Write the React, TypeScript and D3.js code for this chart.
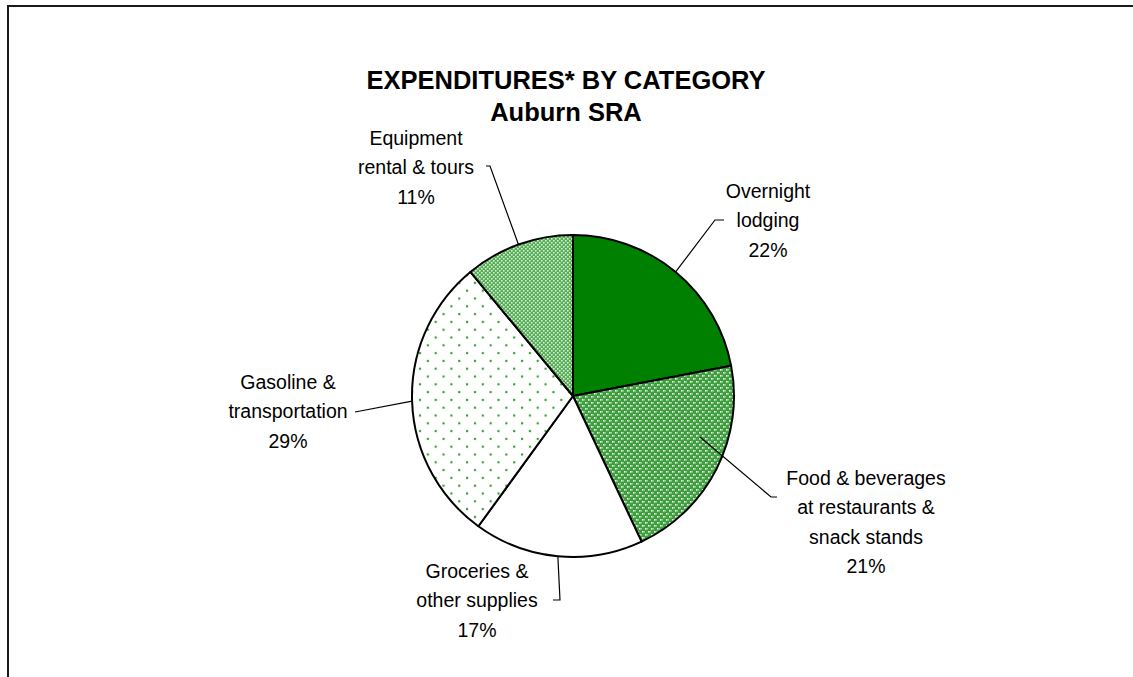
import React from 'react';
import * as d3 from 'd3';

// ---- data ----
const categories = [
  'Overnight lodging',
  'Food & beverages at restaurants & snack stands',
  'Groceries & other supplies',
  'Gasoline & transportation',
  'Equipment rental & tours',
];
const labelLines = [
  ['Overnight', 'lodging'],
  ['Food & beverages', 'at restaurants &', 'snack stands'],
  ['Groceries &', 'other supplies'],
  ['Gasoline &', 'transportation'],
  ['Equipment', 'rental & tours'],
];
const shares = [22, 21, 17, 29, 11];
const titleLines = ['EXPENDITURES* BY CATEGORY', 'Auburn SRA'];

// ---- layout ----
const W = 1133;
const H = 677;
const CX = 573;
const CY = 396;
const R = 161;
const LINE_H = 29.5;
const FONT = '"Liberation Sans", Arial, Helvetica, sans-serif';
const fills = ['#008000', 'url(#pFood)', '#ffffff', 'url(#pGas)', 'url(#pEquip)'];
// label block centre and leader-line elbow/end points (layout only)
const labelLayout: { x: number; y: number; elbow: number[]; end: number[]; anchor?: number[] }[] = [
  { x: 768, y: 220, elbow: [715, 220], end: [724, 220] },
  { x: 866, y: 522, elbow: [771, 497], end: [777, 497], anchor: [700, 437] },
  { x: 477, y: 600, elbow: [560, 600], end: [553, 600] },
  { x: 288, y: 411, elbow: [355, 412], end: [355, 412] },
  { x: 416, y: 167, elbow: [490, 166], end: [486, 166] },
];

export default function App() {
  const pie = d3.pie<number>().sort(null).value((d) => d).startAngle(0).endAngle(2 * Math.PI);
  const arcs = pie(shares);
  const arc = d3.arc<d3.PieArcDatum<number>>().innerRadius(0).outerRadius(R);
  const total = d3.sum(shares);
  const pct = d3.format('.0%');

  return (
    <svg width={W} height={H} style={{ position: 'absolute', left: 0, top: 0, background: '#fff' }}>
      <defs>
        <pattern id="pFood" width={6} height={6} patternUnits="userSpaceOnUse">
          <rect width={6} height={6} fill="#3f9f3f" />
          <rect x={0} y={0} width={1.6} height={1.6} fill="#ffffff" />
          <rect x={3} y={3} width={1.6} height={1.6} fill="#ffffff" />
          <rect x={1.6} y={0} width={1.4} height={1.6} fill="#8fd08f" />
          <rect x={4.6} y={3} width={1.4} height={1.6} fill="#8fd08f" />
        </pattern>
        <pattern id="pEquip" width={4} height={4} patternUnits="userSpaceOnUse">
          <rect width={4} height={4} fill="#55ac55" />
          <rect x={0} y={0} width={1.6} height={1.6} fill="#d8f0d8" />
          <rect x={2} y={2} width={1.6} height={1.6} fill="#d8f0d8" />
        </pattern>
        <pattern id="pGas" width={15.7} height={15.6} patternUnits="userSpaceOnUse">
          <rect width={15.7} height={15.6} fill="#ffffff" />
          <circle cx={4} cy={4} r={1.2} fill="#2f9f2f" />
          <circle cx={11.85} cy={11.8} r={1.2} fill="#2f9f2f" />
        </pattern>
      </defs>

      {/* frame */}
      <path d={`M8,${H} V6 H${W}`} fill="none" stroke="#1a1a1a" strokeWidth={2} />

      {/* title */}
      {titleLines.map((t, i) => (
        <text
          key={t}
          x={566}
          y={80 + i * 32}
          textAnchor="middle"
          dominantBaseline="central"
          fontFamily={FONT}
          fontWeight="bold"
          fontSize={25.5}
          fill="#000"
        >
          {t}
        </text>
      ))}

      {/* slices */}
      <g transform={`translate(${CX},${CY})`}>
        {arcs.map((a, i) => (
          <path key={categories[i]} d={arc(a) || ''} fill={fills[i]} stroke="#000" strokeWidth={2} strokeLinejoin="round" />
        ))}
      </g>

      {/* leader lines */}
      {arcs.map((a, i) => {
        const mid = (a.startAngle + a.endAngle) / 2;
        const L = labelLayout[i];
        const ax = L.anchor ? L.anchor[0] : CX + R * Math.sin(mid);
        const ay = L.anchor ? L.anchor[1] : CY - R * Math.cos(mid);
        return (
          <polyline
            key={'l' + i}
            points={`${ax},${ay} ${L.elbow[0]},${L.elbow[1]} ${L.end[0]},${L.end[1]}`}
            fill="none"
            stroke="#000"
            strokeWidth={1.2}
          />
        );
      })}

      {/* labels */}
      {arcs.map((a, i) => {
        const L = labelLayout[i];
        const lines = [...labelLines[i], pct(a.value / total)];
        const top = L.y - ((lines.length - 1) * LINE_H) / 2;
        return (
          <text key={'t' + i} textAnchor="middle" fontFamily={FONT} fontSize={19.5} fill="#000">
            {lines.map((ln, j) => (
              <tspan key={j} x={L.x} y={top + j * LINE_H} dominantBaseline="central">
                {ln}
              </tspan>
            ))}
          </text>
        );
      })}
    </svg>
  );
}
